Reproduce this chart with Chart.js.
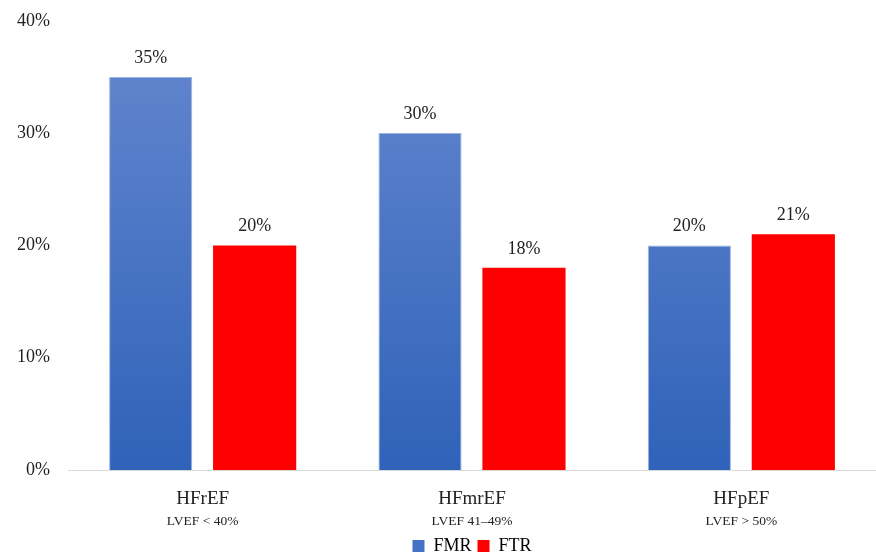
<!DOCTYPE html>
<html>
<head>
<meta charset="utf-8">
<script src="https://cdn.jsdelivr.net/npm/chart.js@4.4.0/dist/chart.umd.min.js"></script>
<style>
  html, body { margin: 0; padding: 0; background: #fff; }
  #wrap { width: 876px; height: 557px; }
</style>
</head>
<body>
<div id="wrap"><canvas id="myChart" width="876" height="557"></canvas></div>
<script>
const categories = ["HFrEF", "HFmrEF", "HFpEF"];
const subLabels = ["LVEF < 40%", "LVEF 41\u201349%", "LVEF > 50%"];
const fmrValues = [35, 30, 20];
const ftrValues = [20, 18, 21];
const yTicks = [0, 10, 20, 30, 40];

const serif = "'Liberation Serif', 'DejaVu Serif', serif";

function blueGradient(context) {
  const chart = context.chart;
  const area = chart.chartArea;
  if (!area) return "#4472c4";
  const g = chart.ctx.createLinearGradient(0, area.top, 0, area.bottom);
  g.addColorStop(0, "#6688cf");
  g.addColorStop(1, "#2f62b9");
  return g;
}

// value labels above bars + second line under category names
const extraText = {
  id: "extraText",
  afterDatasetsDraw(chart) {
    const ctx = chart.ctx;
    ctx.save();
    ctx.font = "18px " + serif;
    ctx.fillStyle = "#222";
    ctx.textAlign = "center";
    ctx.textBaseline = "middle";
    chart.data.datasets.forEach((ds, i) => {
      chart.getDatasetMeta(i).data.forEach((bar, j) => {
        ctx.fillText(ds.data[j] + "%", bar.x, bar.y - 19);
      });
    });
    const xs = chart.scales.x;
    ctx.font = "13.5px " + serif;
    subLabels.forEach((s, i) => {
      ctx.fillText(s, xs.getPixelForValue(i), xs.top + 51);
    });
    ctx.restore();
  }
};

const config = {
  type: "bar",
  data: {
    labels: categories,
    datasets: [
      {
        label: "FMR",
        data: fmrValues,
        backgroundColor: blueGradient,
        borderColor: "#9db3e0",
        borderWidth: 1,
        categoryPercentage: 0.772,
        barPercentage: 0.8
      },
      {
        label: "FTR",
        data: ftrValues,
        backgroundColor: "#ff0000",
        borderWidth: 0,
        categoryPercentage: 0.772,
        barPercentage: 0.8
      }
    ]
  },
  options: {
    responsive: false,
    animation: false,
    layout: { padding: { left: 4, right: 0, top: -8, bottom: -8 } },
    plugins: {
      tooltip: { enabled: false },
      legend: {
        position: "bottom",
        fullSize: false,
        labels: {
          font: { family: serif, size: 18 },
          color: "#222",
          boxWidth: 12,
          boxHeight: 12,
          padding: 6,
          generateLabels(chart) {
            return [
              { text: "FMR", fillStyle: "#4472c4", strokeStyle: "#4472c4", lineWidth: 0, datasetIndex: 0 },
              { text: "FTR", fillStyle: "#ff0000", strokeStyle: "#ff0000", lineWidth: 0, datasetIndex: 1 }
            ];
          }
        }
      }
    },
    scales: {
      x: {
        grid: { display: false },
        border: { color: "#d9d9d9" },
        ticks: { font: { family: serif, size: 19 }, color: "#222", padding: 10 },
        afterFit(axis) { axis.height = 61; }
      },
      y: {
        min: 0,
        max: 40,
        grid: { display: false },
        border: { display: false },
        afterBuildTicks(axis) {
          axis.ticks = yTicks.map(v => ({ value: v }));
        },
        afterFit(axis) { axis.width = 64; },
        ticks: {
          font: { family: serif, size: 18 },
          color: "#222",
          padding: 10,
          callback: v => v + "%"
        }
      }
    }
  },
  plugins: [extraText]
};

const myChart = new Chart(document.getElementById("myChart"), config);
</script>
</body>
</html>
